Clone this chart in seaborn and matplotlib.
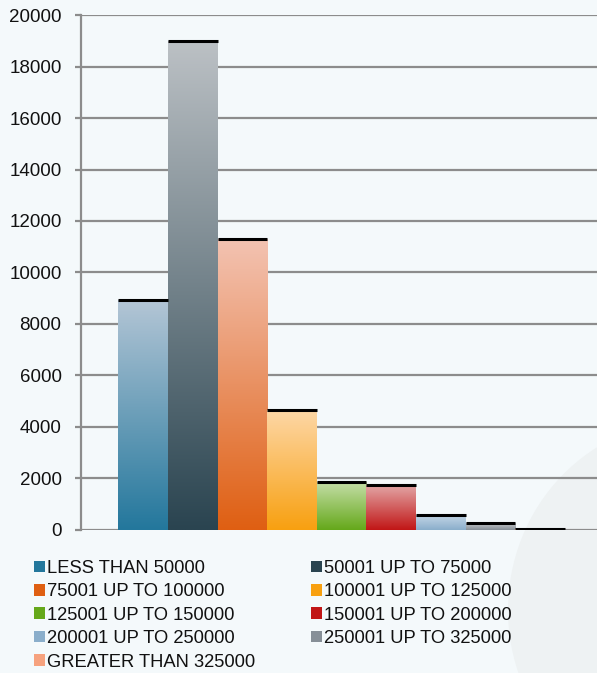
import numpy as np
import pandas as pd
import matplotlib
matplotlib.use("Agg")
import matplotlib.pyplot as plt
import matplotlib.colors as mcolors
from matplotlib.patches import Patch, Ellipse
import seaborn as sns

categories = ["LESS THAN 50000", "50001 UP TO 75000", "75001 UP TO 100000",
              "100001 UP TO 125000", "125001 UP TO 150000", "150001 UP TO 200000",
              "200001 UP TO 250000", "250001 UP TO 325000", "GREATER THAN 325000"]
values = [8950, 19000, 11300, 4650, 1880, 1750, 580, 270, 40]
top_colors = ["#b4c6d6", "#bcc1c5", "#f3c3b2", "#fdd7a6", "#c6dfaa", "#e3a9a9",
              "#c4d6e6", "#c6c9cc", "#f9c4ae"]
bottom_colors = ["#23779c", "#2a4450", "#df5f12", "#f8a010", "#65a81a", "#c11616",
                 "#8aaecb", "#868f97", "#f6a27e"]
yticks = [0, 2000, 4000, 6000, 8000, 10000, 12000, 14000, 16000, 18000, 20000]

sns.set_style("white")
plt.rcParams["font.family"] = ["Liberation Sans", "DejaVu Sans"]

bg = "#f4f9fb"
W, H = 597, 673
fig = plt.figure(figsize=(W / 100, H / 100), dpi=100, facecolor=bg)

# faint background swoosh at bottom right
bgax = fig.add_axes([0, 0, 1, 1], zorder=-5)
bgax.set_xlim(0, W)
bgax.set_ylim(H, 0)
bgax.axis("off")
bgax.add_patch(Ellipse((692, 610), 368, 380, facecolor="#eef2f3", edgecolor="none"))

ax = fig.add_axes([0.1357, 0.2125, 0.8643, 0.7652])
ax.set_facecolor("none")

df = pd.DataFrame({"grp": ["g"] * len(categories), "cat": categories, "val": values})
sns.barplot(data=df, x="grp", y="val", hue="cat", hue_order=categories,
            palette=bottom_colors, width=0.865, dodge=True, legend=False,
            saturation=1, ax=ax, zorder=3)

ax.set_yticks(yticks)
ax.set_yticklabels([str(t) for t in yticks], fontsize=13.5, color="#111111")
ax.set_xticks([])
ax.set_xlabel("")
ax.set_ylabel("")
ax.grid(axis="y", color="#8c8c8c", linewidth=1.6, zorder=0)
ax.set_axisbelow(True)
for s in ["top", "right", "bottom"]:
    ax.spines[s].set_visible(False)
ax.spines["left"].set_color("#8c8c8c")
ax.spines["left"].set_linewidth(1.6)
ax.tick_params(axis="y", which="major", left=True, length=4, width=1.6,
               color="#8c8c8c", pad=10)

patches = sorted(ax.patches, key=lambda p: p.get_x())
for p, tc, bc in zip(patches, top_colors, bottom_colors):
    x0, y0 = p.get_x(), p.get_y()
    w, h = p.get_width(), p.get_height()
    c1 = np.array(mcolors.to_rgb(tc))
    c2 = np.array(mcolors.to_rgb(bc))
    t = np.linspace(0, 1, 256)[:, None]
    grad = (c1 * (1 - t) + c2 * t)[:, None, :]
    im = ax.imshow(grad, extent=(x0, x0 + w, y0, y0 + h), origin="upper",
                   aspect="auto", zorder=3, interpolation="bilinear")
    im.set_clip_path(p)
    p.set_facecolor("none")
    p.set_edgecolor("none")
    ax.plot([x0, x0 + w], [y0 + h, y0 + h], color="black", lw=2.2,
            solid_capstyle="butt", zorder=4)

ax.set_xlim(-0.505, 0.495)
ax.set_ylim(0, 20000)

order = [0, 2, 4, 6, 8, 1, 3, 5, 7]
handles = [Patch(facecolor=bottom_colors[i], edgecolor="none", label=categories[i]) for i in order]
leg = fig.legend(handles=handles, loc="upper left", bbox_to_anchor=(0.045, 0.179),
                 ncol=2, frameon=False, fontsize=13.2, handlelength=0.6,
                 handleheight=0.6, handletextpad=0.12, labelspacing=0.35,
                 columnspacing=3.0, borderaxespad=0)
for txt in leg.get_texts():
    txt.set_color("#111111")

fig.savefig("out.png", dpi=100, facecolor=bg)
